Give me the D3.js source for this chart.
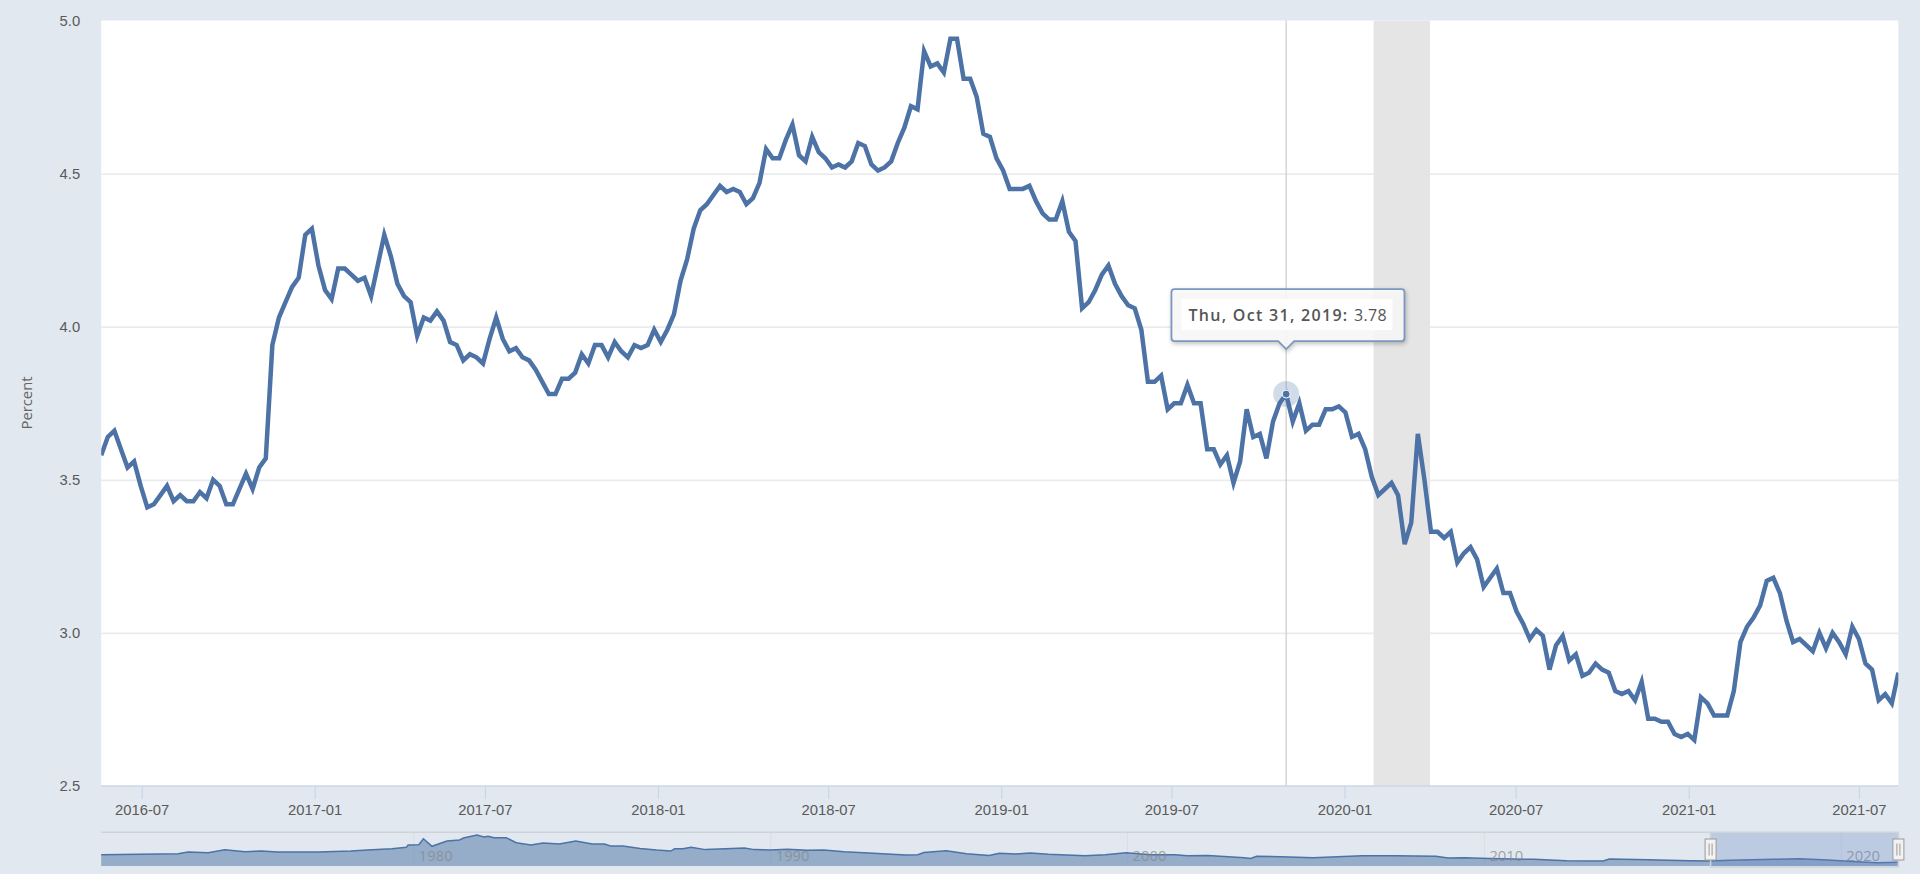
<!DOCTYPE html>
<html>
<head>
<meta charset="utf-8">
<title>Percent</title>
<script src="https://cdn.jsdelivr.net/npm/d3@7"></script>
<style>
    html, body { margin: 0; padding: 0; background: #e1e8ef; overflow: hidden; }
    svg { display: block; font-family: "Open Sans", sans-serif; }
    .axis text { font-size: 14.8px; fill: #5a5a5a; }
    .axis .domain { display: none; }
</style>
</head>
<body>
<svg id="chart" width="1920" height="874"></svg>
<script>
// weekly series, first reading and then one value per week
const startDate = new Date(Date.UTC(2016, 4, 19))
const weeklyValues = [
    3.58, 3.64, 3.66, 3.60, 3.54, 3.56, 3.48, 3.41, 3.42, 3.45,
    3.48, 3.43, 3.45, 3.43, 3.43, 3.46, 3.44, 3.50, 3.48, 3.42,
    3.42, 3.47, 3.52, 3.47, 3.54, 3.57, 3.94, 4.03, 4.08, 4.13,
    4.16, 4.30, 4.32, 4.20, 4.12, 4.09, 4.19, 4.19, 4.17, 4.15,
    4.16, 4.10, 4.20, 4.30, 4.23, 4.14, 4.10, 4.08, 3.97, 4.03,
    4.02, 4.05, 4.02, 3.95, 3.94, 3.89, 3.91, 3.90, 3.88, 3.96,
    4.03, 3.96, 3.92, 3.93, 3.90, 3.89, 3.86, 3.82, 3.78, 3.78,
    3.83, 3.83, 3.85, 3.91, 3.88, 3.94, 3.94, 3.90, 3.95, 3.92,
    3.90, 3.94, 3.93, 3.94, 3.99, 3.95, 3.99, 4.04, 4.15, 4.22,
    4.32, 4.38, 4.40, 4.43, 4.46, 4.44, 4.45, 4.44, 4.40, 4.42,
    4.47, 4.58, 4.55, 4.55, 4.61, 4.66, 4.56, 4.54, 4.62, 4.57,
    4.55, 4.52, 4.53, 4.52, 4.54, 4.60, 4.59, 4.53, 4.51, 4.52,
    4.54, 4.60, 4.65, 4.72, 4.71, 4.90, 4.85, 4.86, 4.83, 4.94,
    4.94, 4.81, 4.81, 4.75, 4.63, 4.62, 4.55, 4.51, 4.45, 4.45,
    4.45, 4.46, 4.41, 4.37, 4.35, 4.35, 4.41, 4.31, 4.28, 4.06,
    4.08, 4.12, 4.17, 4.20, 4.14, 4.10, 4.07, 4.06, 3.99, 3.82,
    3.82, 3.84, 3.73, 3.75, 3.75, 3.81, 3.75, 3.75, 3.60, 3.60,
    3.55, 3.58, 3.49, 3.56, 3.73, 3.64, 3.65, 3.57, 3.69, 3.75,
    3.78, 3.69, 3.75, 3.66, 3.68, 3.68, 3.73, 3.73, 3.74, 3.72,
    3.64, 3.65, 3.60, 3.51, 3.45, 3.47, 3.49, 3.45, 3.29, 3.36,
    3.65, 3.50, 3.33, 3.33, 3.31, 3.33, 3.23, 3.26, 3.28, 3.24,
    3.15, 3.18, 3.21, 3.13, 3.13, 3.07, 3.03, 2.98, 3.01, 2.99,
    2.88, 2.96, 2.99, 2.91, 2.93, 2.86, 2.87, 2.90, 2.88, 2.87,
    2.81, 2.80, 2.81, 2.78, 2.84, 2.72, 2.72, 2.71, 2.71, 2.67,
    2.66, 2.67, 2.65, 2.79, 2.77, 2.73, 2.73, 2.73, 2.81, 2.97,
    3.02, 3.05, 3.09, 3.17, 3.18, 3.13, 3.04, 2.97, 2.98, 2.96,
    2.94, 3.00, 2.95, 3.00, 2.97, 2.93, 3.02, 2.98, 2.90, 2.88,
    2.78, 2.80, 2.77, 2.87
]

const yTicks = [2.5, 3.0, 3.5, 4.0, 4.5, 5.0]
const xTicks = ["2016-07", "2017-01", "2017-07", "2018-01", "2018-07", "2019-01", "2019-07", "2020-01", "2020-07", "2021-01", "2021-07"]
const recession = ["2020-02-01", "2020-04-01"]
const hoverIndex = 180
const hoverLabel = "Thu, Oct 31, 2019:"

// navigator overview
const navYears = [
    1971.24, 1973.4, 1973.67, 1974.24, 1974.7, 1975.27, 1975.73, 1976.18, 1977.33, 1978.24,
    1978.7, 1979.39, 1979.79, 1979.84, 1980.14, 1980.27, 1980.51, 1980.93, 1981.28, 1981.39,
    1981.77, 1981.96, 1982.08, 1982.25, 1982.59, 1982.87, 1983.28, 1983.62, 1984.08, 1984.54,
    1985, 1985.34, 1985.51, 1985.86, 1986.34, 1986.8, 1987.2, 1987.31, 1987.54, 1987.77,
    1988.17, 1988.74, 1989.26, 1989.54, 1990, 1990.46, 1991.03, 1991.49, 1992.06, 1992.75,
    1993.78, 1994.12, 1994.29, 1994.92, 1995.49, 1996.12, 1996.41, 1996.87, 1997.27, 1997.78,
    1998.81, 1999.38, 1999.96, 2000.64, 2001.33, 2001.67, 2002.25, 2003.28, 2003.45, 2003.62,
    2004.29, 2005.2, 2006.58, 2007.49, 2008.64, 2008.98, 2009.44, 2010.13, 2011.38, 2012.3,
    2013.33, 2013.5, 2014.59, 2015.73, 2016.3, 2016.88, 2018.13, 2018.82, 2019.62, 2020.31,
    2021, 2021.6
]
const navValues = [
    7.2, 7.8, 8.7, 8.3, 10.0, 8.9, 9.3, 8.7, 8.7, 9.3,
    9.9, 10.6, 11.4, 12.7, 12.9, 16.3, 12.0, 15.0, 15.6, 16.7,
    18.4, 17.3, 17.7, 16.9, 16.9, 14.0, 12.7, 13.9, 13.3, 15.0,
    13.3, 13.3, 12.2, 12.2, 10.8, 9.9, 9.3, 10.6, 10.6, 11.4,
    10.1, 10.6, 11.0, 10.1, 9.9, 10.3, 9.7, 9.9, 8.9, 8.2,
    7.0, 7.2, 8.5, 9.5, 7.8, 6.8, 8.0, 7.6, 8.2, 7.4,
    6.6, 7.2, 8.3, 7.2, 7.2, 6.6, 6.8, 5.5, 5.1, 6.3,
    6.1, 5.5, 6.6, 6.6, 6.3, 5.3, 5.5, 5.1, 4.55, 3.8,
    3.6, 4.7, 4.4, 3.8, 3.6, 4.0, 4.6, 4.9, 4.2, 3.4,
    2.65, 2.9
]
const navLabels = [1980, 1990, 2000, 2010, 2020]

const margin = { left: 101.2, right: 1898.4, top: 20.5, bottom: 786 }
const navTop = 832.3, navBottom = 866
const lineColor = "#4c72a6"

const svg = d3.select("#chart")
const dates = weeklyValues.map((d, i) => d3.utcDay.offset(startDate, i * 7))
const parseMonth = d3.utcParse("%Y-%m")
const parseDay = d3.utcParse("%Y-%m-%d")

const x = d3.scaleUtc().domain([dates[0], dates[dates.length - 1]]).range([margin.left, margin.right])
const y = d3.scaleLinear().domain([2.5, 5]).range([margin.bottom, margin.top])

// plot background
svg.append("rect")
    .attr("x", margin.left).attr("y", margin.top)
    .attr("width", margin.right - margin.left).attr("height", margin.bottom - margin.top)
    .attr("fill", "#fff")

svg.append("clipPath").attr("id", "plotClip").append("rect")
    .attr("x", margin.left).attr("y", margin.top)
    .attr("width", margin.right - margin.left).attr("height", margin.bottom - margin.top)

// y axis + grid
const yAxis = svg.append("g")
    .attr("class", "axis")
    .attr("transform", "translate(" + margin.left + ",0)")
    .call(d3.axisLeft(y).tickValues(yTicks).tickFormat(d3.format(".1f")).tickSize(-(margin.right - margin.left)).tickPadding(21))
yAxis.selectAll(".tick line").attr("stroke", "#e9ebee").attr("stroke-width", 1.7)
yAxis.selectAll(".tick").filter(d => d === 2.5 || d === 5).select("line").remove()

// recession band
svg.append("rect")
    .attr("x", x(parseDay(recession[0]))).attr("y", margin.top)
    .attr("width", x(parseDay(recession[1])) - x(parseDay(recession[0])))
    .attr("height", margin.bottom - margin.top)
    .attr("fill", "#e5e5e5")

// crosshair
const hoverX = x(dates[hoverIndex]), hoverY = y(weeklyValues[hoverIndex])
svg.append("line")
    .attr("x1", hoverX).attr("x2", hoverX)
    .attr("y1", margin.top).attr("y2", margin.bottom)
    .attr("stroke", "#cccccc").attr("stroke-width", 1.2)

// series
const line = d3.line().x((d, i) => x(dates[i])).y(d => y(d))
svg.append("path")
    .datum(weeklyValues)
    .attr("clip-path", "url(#plotClip)")
    .attr("d", line)
    .attr("fill", "none")
    .attr("stroke", lineColor)
    .attr("stroke-width", 4.5)
    .attr("stroke-linejoin", "miter")

// x axis
const xAxis = svg.append("g")
    .attr("class", "axis")
    .attr("transform", "translate(0," + margin.bottom + ")")
    .call(d3.axisBottom(x).tickValues(xTicks.map(parseMonth)).tickFormat(d3.utcFormat("%Y-%m")).tickSize(13).tickPadding(5))
xAxis.selectAll(".tick line").attr("stroke", "#ccd6eb").attr("stroke-width", 1.2)
svg.append("line")
    .attr("x1", margin.left).attr("x2", margin.right)
    .attr("y1", margin.bottom).attr("y2", margin.bottom)
    .attr("stroke", "#ccd6eb").attr("stroke-width", 1.4)

// axis title
svg.append("text")
    .attr("transform", "translate(32,403) rotate(-90)")
    .attr("text-anchor", "middle")
    .attr("font-size", 14.8)
    .attr("fill", "#666")
    .text("Percent")

// hover marker
svg.append("circle").attr("cx", hoverX).attr("cy", hoverY).attr("r", 13)
    .attr("fill", lineColor).attr("fill-opacity", 0.25)
svg.append("circle").attr("cx", hoverX).attr("cy", hoverY).attr("r", 4)
    .attr("fill", lineColor).attr("stroke", "#fff").attr("stroke-width", 1)

// tooltip
const tipLeft = hoverX - 114.7, tipRight = hoverX + 118.3
const tipBottom = hoverY - 53, tipTop = tipBottom - 52
const tipPath = d3.path()
tipPath.moveTo(tipLeft + 3, tipTop)
tipPath.lineTo(tipRight - 3, tipTop)
tipPath.quadraticCurveTo(tipRight, tipTop, tipRight, tipTop + 3)
tipPath.lineTo(tipRight, tipBottom - 3)
tipPath.quadraticCurveTo(tipRight, tipBottom, tipRight - 3, tipBottom)
tipPath.lineTo(hoverX + 8, tipBottom)
tipPath.lineTo(hoverX, tipBottom + 8)
tipPath.lineTo(hoverX - 8, tipBottom)
tipPath.lineTo(tipLeft + 3, tipBottom)
tipPath.quadraticCurveTo(tipLeft, tipBottom, tipLeft, tipBottom - 3)
tipPath.lineTo(tipLeft, tipTop + 3)
tipPath.quadraticCurveTo(tipLeft, tipTop, tipLeft + 3, tipTop)
tipPath.closePath()

const tooltip = svg.append("g")
tooltip.append("path")
    .attr("d", tipPath.toString())
    .attr("fill", "#fff").attr("fill-opacity", 0.85)
    .attr("stroke", "#7c98c1").attr("stroke-width", 1.8)
    .style("filter", "drop-shadow(1px 2px 2px rgba(0,0,0,0.25))")
tooltip.append("rect")
    .attr("x", tipLeft + 10).attr("y", tipTop + 10)
    .attr("width", 211).attr("height", 31)
    .attr("fill", "#fff")
const tipText = tooltip.append("text")
    .attr("x", tipLeft + 17).attr("y", tipTop + 31.5)
    .attr("font-size", 16)
    .attr("letter-spacing", 1.3)
    .attr("fill", "#555")
tipText.append("tspan").attr("font-weight", 600).text(hoverLabel + " ")
tipText.append("tspan").attr("letter-spacing", 0.3).text(d3.format(".2f")(weeklyValues[hoverIndex]))

// navigator
const yearToDate = yr => {
    const whole = Math.floor(yr)
    return new Date(Date.UTC(whole, 0, 1) + (yr - whole) * 365.25 * 864e5)
}
const navX = d3.scaleUtc()
    .domain([yearToDate(navYears[0]), yearToDate(navYears[navYears.length - 1])])
    .range([margin.left, margin.right])
const navY = d3.scaleLinear().domain([2.65, 18.6]).range([862.7, 834.7])

const nav = svg.append("g")
nav.selectAll(".navGrid").data(navLabels).enter().append("line")
    .attr("x1", d => navX(yearToDate(d))).attr("x2", d => navX(yearToDate(d)))
    .attr("y1", navTop).attr("y2", navBottom)
    .attr("stroke", "#d8dee4").attr("stroke-width", 1)

const navArea = d3.area()
    .x((d, i) => navX(yearToDate(navYears[i])))
    .y0(navBottom)
    .y1(d => navY(d))
nav.append("path").datum(navValues).attr("d", navArea).attr("fill", lineColor).attr("fill-opacity", 0.5)
const navLine = d3.line().x((d, i) => navX(yearToDate(navYears[i]))).y(d => navY(d))
nav.append("path").datum(navValues).attr("d", navLine)
    .attr("fill", "none").attr("stroke", lineColor).attr("stroke-width", 1.5)

nav.selectAll(".navLabel").data(navLabels).enter().append("text")
    .attr("x", d => navX(yearToDate(d)) + 5)
    .attr("y", 861)
    .attr("font-size", 14.8)
    .attr("fill", "#888").attr("fill-opacity", 0.75)
    .text(d => d)

// navigator selection = the visible window of the main chart
const selLeft = 1710.6
nav.append("rect")
    .attr("x", selLeft).attr("y", navTop)
    .attr("width", margin.right - selLeft).attr("height", navBottom - navTop)
    .attr("fill", "#6685c2").attr("fill-opacity", 0.3)
nav.append("path")
    .attr("d", d3.line()([[margin.left, navTop], [margin.right, navTop], [margin.right, navBottom + 1], [selLeft, navBottom + 1], [selLeft, navTop]]))
    .attr("fill", "none").attr("stroke", "#cfd3d8").attr("stroke-width", 1.6)

const handles = nav.selectAll(".handle").data([selLeft, margin.right]).enter().append("g")
    .attr("transform", d => "translate(" + d + ",849.5)")
handles.append("rect")
    .attr("x", -5.5).attr("y", -10.5).attr("width", 11).attr("height", 21)
    .attr("fill", "#f2f2f2").attr("stroke", "#999").attr("stroke-width", 1)
handles.selectAll("line").data([-1.5, 1.5]).enter().append("line")
    .attr("x1", d => d).attr("x2", d => d).attr("y1", -6).attr("y2", 6)
    .attr("stroke", "#999").attr("stroke-width", 1)
</script>
</body>
</html>
